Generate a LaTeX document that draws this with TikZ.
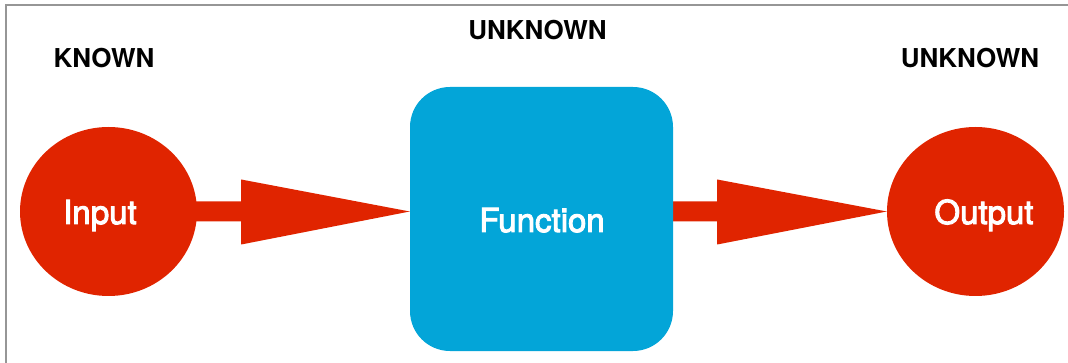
\documentclass[tikz,border=0pt]{standalone}
\usepackage{fontspec}
\setmainfont{TeX Gyre Heros}
\usetikzlibrary{shapes.geometric,calc,backgrounds}
\definecolor{flowred}{RGB}{224,36,0}
\definecolor{boxblue}{RGB}{3,165,216}
\definecolor{framegray}{RGB}{150,150,150}
\tikzset{
  blob/.style={ellipse,fill=flowred,draw=none,minimum width=177pt,minimum height=169pt,inner sep=0pt},
  funcbox/.style={rectangle,rounded corners=40pt,fill=boxblue,draw=none,minimum width=263pt,minimum height=264pt,inner sep=0pt},
  inlabel/.style={anchor=base,text=white,font=\fontsize{33pt}{36pt}\selectfont\addfontfeatures{FakeBold=3},inner sep=0pt},
  headlabel/.style={anchor=base,text=black,font=\bfseries\fontsize{26pt}{30pt}\selectfont,inner sep=0pt},
  fatarrow/.style={fill=flowred,draw=none}
}
% wide arrow: short shaft followed by a long triangular head
\newcommand\widearrow[2]{%
  \fill[fatarrow] ($(#1)+(-3,-10)$) -- ($(#1)+(44,-10)$) -- ($(#1)+(44,-32)$)
    -- (#2) -- ($(#1)+(44,33)$) -- ($(#1)+(44,10)$) -- ($(#1)+(-3,10)$) -- cycle;}
\begin{document}
\begin{tikzpicture}[x=1pt,y=-1pt]
  \useasboundingbox (0,0) rectangle (1068,363);
  % outer frame (only the top and left edges are visible)
  \draw[framegray,line width=1.6pt] (6,363) -- (6,5) -- (1068,5);

  \node[blob] (in) at (108.5,211.5) {};
  \node[blob] (out) at (975.5,211.5) {};
  \node[funcbox] (fn) at (541.5,219) {};

  \node[inlabel] (intext) at (100,224) {Input};
  \node[inlabel] (outtext) at (984,224) {Output};
  \node[inlabel] (fntext) at (542,232) {Function};

  \node[headlabel] (known) at (104,68) {KNOWN};
  \node[headlabel] (unkfn) at (537.5,40) {UNKNOWN};
  \node[headlabel] (unkout) at (970,68) {UNKNOWN};

  \coordinate (a1s) at (in.east);
  \coordinate (a1t) at (fn.west |- in.east);
  \coordinate (a2s) at (fn.east |- out.west);
  \coordinate (a2t) at (out.west);
  \begin{scope}[on background layer]
    \widearrow{a1s}{a1t}
    \widearrow{a2s}{a2t}
  \end{scope}
\end{tikzpicture}
\end{document}
